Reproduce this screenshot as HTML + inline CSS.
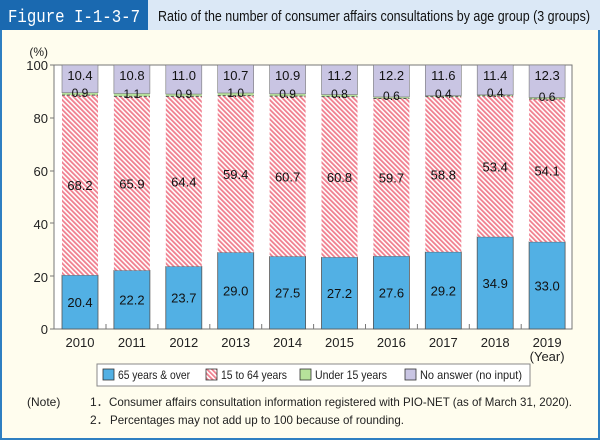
<!DOCTYPE html>
<html><head><meta charset="utf-8"><style>
body{margin:0;width:600px;height:440px;overflow:hidden;background:#fff;}
</style></head><body>
<svg width="600" height="440" xmlns="http://www.w3.org/2000/svg" font-family="Liberation Sans, sans-serif">
<defs>
<pattern id="h" patternUnits="userSpaceOnUse" width="3.4" height="3.4" patternTransform="rotate(-45)">
<rect width="3.4" height="3.4" fill="#fff"/><rect width="1.8" height="3.4" fill="#f07f8f"/>
</pattern>
</defs>
<rect x="0" y="0" width="600" height="440" fill="#fffdee"/>
<rect x="1" y="1" width="598" height="438" fill="none" stroke="#2f7fc1" stroke-width="2"/>
<rect x="0" y="0" width="600" height="30" fill="#dbe8f6"/>
<rect x="0" y="0" width="148" height="30" fill="#1a69b0"/>
<text x="8" y="22" font-family="Liberation Mono, monospace" font-size="18" fill="#fff" textLength="132" lengthAdjust="spacingAndGlyphs">Figure I-1-3-7</text>
<text x="158" y="21" font-size="15" fill="#111" textLength="432" lengthAdjust="spacingAndGlyphs">Ratio of the number of consumer affairs consultations by age group (3 groups)</text>
<rect x="54" y="65" width="518" height="264" fill="#fff" stroke="#777" stroke-width="1"/>
<g font-size="13" fill="#222" text-anchor="end">
<text x="48" y="56" font-size="12">(%)</text>
<text x="48" y="70">100</text><text x="48" y="123">80</text><text x="48" y="176">60</text><text x="48" y="229">40</text><text x="48" y="282">20</text><text x="48" y="334">0</text>
</g>
<g stroke="#777"><line x1="50" y1="65" x2="54" y2="65"/><line x1="50" y1="118" x2="54" y2="118"/><line x1="50" y1="171" x2="54" y2="171"/><line x1="50" y1="223" x2="54" y2="223"/><line x1="50" y1="276" x2="54" y2="276"/><line x1="50" y1="329" x2="54" y2="329"/></g>
<g stroke="#777">
<line x1="106" y1="324" x2="106" y2="329"/><line x1="157.9" y1="324" x2="157.9" y2="329"/><line x1="209.8" y1="324" x2="209.8" y2="329"/><line x1="261.7" y1="324" x2="261.7" y2="329"/><line x1="313.6" y1="324" x2="313.6" y2="329"/><line x1="365.5" y1="324" x2="365.5" y2="329"/><line x1="417.4" y1="324" x2="417.4" y2="329"/><line x1="469.3" y1="324" x2="469.3" y2="329"/><line x1="521.2" y1="324" x2="521.2" y2="329"/>
</g>

<g font-size="13" fill="#111" text-anchor="middle">
<g transform="translate(62,0)">
<rect y="275.14" width="36" height="53.86" fill="#52b0e4" stroke="#555" stroke-width="0.8"/>
<rect y="95.1" width="36" height="180.04" fill="url(#h)"/>
<rect y="92.72" width="36" height="2.38" fill="#b6e29a"/>
<rect y="65" width="36" height="27.72" fill="#c9c5e3" stroke="#777" stroke-width="0.6"/>
<line x1="0" y1="95.1" x2="36" y2="95.1" stroke="#555" stroke-dasharray="3,2"/>
<text x="18" y="307.1">20.4</text><text x="18" y="190.1">68.2</text><text x="18" y="80">10.4</text><text x="18" y="97" font-size="12">0.9</text>
<text x="18" y="347" fill="#222">2010</text></g>
<g transform="translate(113.9,0)">
<rect y="270.39" width="36" height="58.61" fill="#52b0e4" stroke="#555" stroke-width="0.8"/>
<rect y="96.42" width="36" height="173.97" fill="url(#h)"/>
<rect y="93.51" width="36" height="2.91" fill="#b6e29a"/>
<rect y="65" width="36" height="28.51" fill="#c9c5e3" stroke="#777" stroke-width="0.6"/>
<line x1="0" y1="96.42" x2="36" y2="96.42" stroke="#555" stroke-dasharray="3,2"/>
<text x="18" y="304.7">22.2</text><text x="18" y="188.4">65.9</text><text x="18" y="80">10.8</text><text x="18" y="98" font-size="12">1.1</text>
<text x="18" y="347" fill="#222">2011</text></g>
<g transform="translate(165.8,0)">
<rect y="266.43" width="36" height="62.57" fill="#52b0e4" stroke="#555" stroke-width="0.8"/>
<rect y="96.42" width="36" height="170.01" fill="url(#h)"/>
<rect y="94.04" width="36" height="2.38" fill="#b6e29a"/>
<rect y="65" width="36" height="29.04" fill="#c9c5e3" stroke="#777" stroke-width="0.6"/>
<line x1="0" y1="96.42" x2="36" y2="96.42" stroke="#555" stroke-dasharray="3,2"/>
<text x="18" y="302.7">23.7</text><text x="18" y="186.4">64.4</text><text x="18" y="80">11.0</text><text x="18" y="98" font-size="12">0.9</text>
<text x="18" y="347" fill="#222">2012</text></g>
<g transform="translate(217.7,0)">
<rect y="252.44" width="36" height="76.56" fill="#52b0e4" stroke="#555" stroke-width="0.8"/>
<rect y="95.62" width="36" height="156.82" fill="url(#h)"/>
<rect y="92.98" width="36" height="2.64" fill="#b6e29a"/>
<rect y="65" width="36" height="27.98" fill="#c9c5e3" stroke="#777" stroke-width="0.6"/>
<line x1="0" y1="95.62" x2="36" y2="95.62" stroke="#555" stroke-dasharray="3,2"/>
<text x="18" y="295.7">29.0</text><text x="18" y="179">59.4</text><text x="18" y="80">10.7</text><text x="18" y="97" font-size="12">1.0</text>
<text x="18" y="347" fill="#222">2013</text></g>
<g transform="translate(269.6,0)">
<rect y="256.4" width="36" height="72.6" fill="#52b0e4" stroke="#555" stroke-width="0.8"/>
<rect y="96.15" width="36" height="160.25" fill="url(#h)"/>
<rect y="93.78" width="36" height="2.37" fill="#b6e29a"/>
<rect y="65" width="36" height="28.78" fill="#c9c5e3" stroke="#777" stroke-width="0.6"/>
<line x1="0" y1="96.15" x2="36" y2="96.15" stroke="#555" stroke-dasharray="3,2"/>
<text x="18" y="297.7">27.5</text><text x="18" y="181.3">60.7</text><text x="18" y="80">10.9</text><text x="18" y="98" font-size="12">0.9</text>
<text x="18" y="347" fill="#222">2014</text></g>
<g transform="translate(321.5,0)">
<rect y="257.19" width="36" height="71.81" fill="#52b0e4" stroke="#555" stroke-width="0.8"/>
<rect y="96.68" width="36" height="160.51" fill="url(#h)"/>
<rect y="94.57" width="36" height="2.11" fill="#b6e29a"/>
<rect y="65" width="36" height="29.57" fill="#c9c5e3" stroke="#777" stroke-width="0.6"/>
<line x1="0" y1="96.68" x2="36" y2="96.68" stroke="#555" stroke-dasharray="3,2"/>
<text x="18" y="298.1">27.2</text><text x="18" y="181.9">60.8</text><text x="18" y="80">11.2</text><text x="18" y="98" font-size="12">0.8</text>
<text x="18" y="347" fill="#222">2015</text></g>
<g transform="translate(373.4,0)">
<rect y="256.14" width="36" height="72.86" fill="#52b0e4" stroke="#555" stroke-width="0.8"/>
<rect y="98.53" width="36" height="157.61" fill="url(#h)"/>
<rect y="96.94" width="36" height="1.59" fill="#b6e29a"/>
<rect y="65" width="36" height="31.94" fill="#c9c5e3" stroke="#777" stroke-width="0.6"/>
<line x1="0" y1="98.53" x2="36" y2="98.53" stroke="#555" stroke-dasharray="3,2"/>
<text x="18" y="297.6">27.6</text><text x="18" y="182.3">59.7</text><text x="18" y="80">12.2</text><text x="18" y="100" font-size="12">0.6</text>
<text x="18" y="347" fill="#222">2016</text></g>
<g transform="translate(425.3,0)">
<rect y="251.91" width="36" height="77.09" fill="#52b0e4" stroke="#555" stroke-width="0.8"/>
<rect y="96.68" width="36" height="155.23" fill="url(#h)"/>
<rect y="95.62" width="36" height="1.06" fill="#b6e29a"/>
<rect y="65" width="36" height="30.62" fill="#c9c5e3" stroke="#777" stroke-width="0.6"/>
<line x1="0" y1="96.68" x2="36" y2="96.68" stroke="#555" stroke-dasharray="3,2"/>
<text x="18" y="295.5">29.2</text><text x="18" y="179.3">58.8</text><text x="18" y="80">11.6</text><text x="18" y="98" font-size="12">0.4</text>
<text x="18" y="347" fill="#222">2017</text></g>
<g transform="translate(477.2,0)">
<rect y="236.86" width="36" height="92.14" fill="#52b0e4" stroke="#555" stroke-width="0.8"/>
<rect y="95.89" width="36" height="140.97" fill="url(#h)"/>
<rect y="94.83" width="36" height="1.06" fill="#b6e29a"/>
<rect y="65" width="36" height="29.83" fill="#c9c5e3" stroke="#777" stroke-width="0.6"/>
<line x1="0" y1="95.89" x2="36" y2="95.89" stroke="#555" stroke-dasharray="3,2"/>
<text x="18" y="288">34.9</text><text x="18" y="171.4">53.4</text><text x="18" y="80">11.4</text><text x="18" y="97" font-size="12">0.4</text>
<text x="18" y="347" fill="#222">2018</text></g>
<g transform="translate(529.1,0)">
<rect y="241.88" width="36" height="87.12" fill="#52b0e4" stroke="#555" stroke-width="0.8"/>
<rect y="99.06" width="36" height="142.82" fill="url(#h)"/>
<rect y="97.47" width="36" height="1.59" fill="#b6e29a"/>
<rect y="65" width="36" height="32.47" fill="#c9c5e3" stroke="#777" stroke-width="0.6"/>
<line x1="0" y1="99.06" x2="36" y2="99.06" stroke="#555" stroke-dasharray="3,2"/>
<text x="18" y="290.4">33.0</text><text x="18" y="175.5">54.1</text><text x="18" y="80">12.3</text><text x="18" y="101" font-size="12">0.6</text>
<text x="18" y="347" fill="#222">2019</text><text x="18" y="361" fill="#222">(Year)</text></g>
</g>

<rect x="97" y="364" width="433" height="22" fill="#fff" stroke="#888"/>
<g font-size="12" fill="#222">
<rect x="103" y="369" width="11" height="11" fill="#52b0e4" stroke="#333" stroke-width="0.8"/>
<text x="118" y="379" textLength="72" lengthAdjust="spacingAndGlyphs">65 years &amp; over</text>
<rect x="206" y="369" width="11" height="11" fill="url(#h)" stroke="#333" stroke-width="0.8"/>
<text x="221" y="379" textLength="66" lengthAdjust="spacingAndGlyphs">15 to 64 years</text>
<rect x="300" y="369" width="11" height="11" fill="#b6e29a" stroke="#333" stroke-width="0.8"/>
<text x="315" y="379" textLength="72" lengthAdjust="spacingAndGlyphs">Under 15 years</text>
<rect x="405" y="369" width="11" height="11" fill="#c9c5e3" stroke="#333" stroke-width="0.8"/>
<text x="420" y="379" textLength="102" lengthAdjust="spacingAndGlyphs">No answer (no input)</text>
</g>
<g font-size="12" fill="#222">
<text x="27" y="406">(Note)</text>
<text x="90" y="406">1．</text>
<text x="109" y="406" textLength="463" lengthAdjust="spacingAndGlyphs">Consumer affairs consultation information registered with PIO-NET (as of March 31, 2020).</text>
<text x="90" y="424">2．</text>
<text x="110" y="424" textLength="294" lengthAdjust="spacingAndGlyphs">Percentages may not add up to 100 because of rounding.</text>
</g>
</svg>
</body></html>
